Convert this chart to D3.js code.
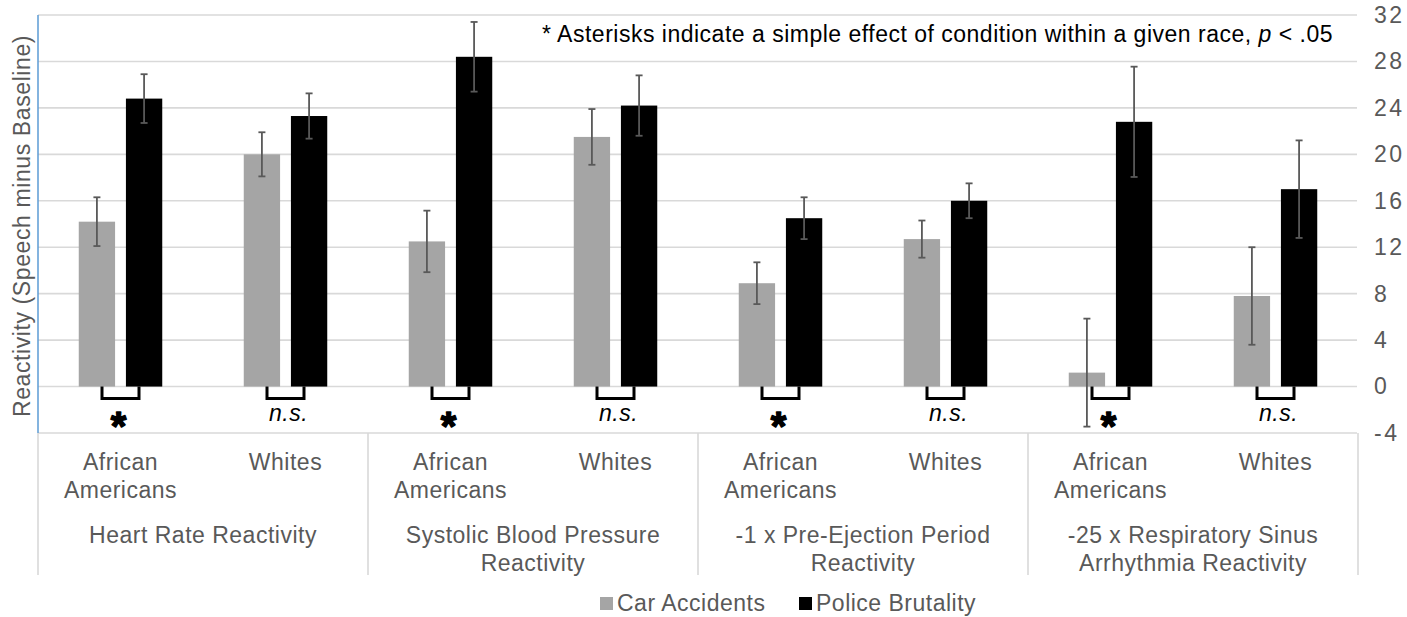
<!DOCTYPE html>
<html>
<head>
<meta charset="utf-8">
<script src="https://cdn.jsdelivr.net/npm/d3@7"></script>
<style>
  html, body { margin: 0; padding: 0; background: #fff; }
  svg { display: block; font-family: "Liberation Sans", Arial, sans-serif; }
  .lbl { font-size: 23px; letter-spacing: 0.5px; }
</style>
</head>
<body>
<svg id="chart" width="1407" height="617"></svg>
<script>
// Outcome groups (each split by race), shown as two-level category axis
const groupLabels = [
  ["Heart Rate Reactivity"],
  ["Systolic Blood Pressure", "Reactivity"],
  ["-1 x Pre-Ejection Period", "Reactivity"],
  ["-25 x Respiratory Sinus", "Arrhythmia Reactivity"]
];
const raceLabels = [["African", "Americans"], ["Whites"]];

// Categories: group index x race index
const categories = ["HR-AA", "HR-W", "SBP-AA", "SBP-W", "PEP-AA", "PEP-W", "RSA-AA", "RSA-W"];

// Series: means and standard errors
const seriesNames = ["Car Accidents", "Police Brutality"];
const carAccidents    = [14.2, 20.0, 12.5, 21.5, 8.9, 12.7, 1.2, 7.8];
const carErr          = [2.1, 1.9, 2.65, 2.4, 1.8, 1.6, 4.65, 4.2];
const policeBrutality = [24.8, 23.3, 28.4, 24.2, 14.5, 16.0, 22.8, 17.0];
const policeErr       = [2.1, 1.95, 3.0, 2.6, 1.8, 1.5, 4.75, 4.2];

// Simple-effect significance per category
const significance = ["*", "n.s.", "*", "n.s.", "*", "n.s.", "*", "n.s."];

// Right axis ticks
const yTicks = [-4, 0, 4, 8, 12, 16, 20, 24, 28, 32];

(function draw() {
  const colors = ["#a5a5a5", "#000000"];
  const textGray = "#595959";
  const gridGray = "#d9d9d9";

  const svg = d3.select("#chart");
  const plotLeft = 38, plotRight = 1358, plotTop = 15, axisBottom = 433, boxBottom = 575;

  const x = d3.scaleBand().domain(categories).range([plotLeft, plotRight]).padding(0);
  const bw = x.bandwidth();
  const xs = d3.scaleBand().domain(seriesNames)
    .range([bw * 0.247, bw * 0.753]).paddingInner(0.23).paddingOuter(0);
  const y = d3.scaleLinear().domain([-4, 32]).range([axisBottom, plotTop]);

  // Gridlines
  svg.append("g").selectAll("line").data(yTicks).join("line")
    .attr("x1", plotLeft).attr("x2", plotRight - 1)
    .attr("y1", d => y(d)).attr("y2", d => y(d))
    .attr("stroke", gridGray).attr("stroke-width", 1.6);

  // Right value axis
  const yAxis = svg.append("g")
    .attr("transform", `translate(${plotRight},0)`)
    .call(d3.axisRight(y).tickValues(yTicks).tickSize(0).tickPadding(16).tickFormat(d => String(d)));
  yAxis.select(".domain").remove();
  yAxis.attr("font-size", null).attr("font-family", null);
  yAxis.selectAll("text").attr("fill", textGray).attr("class", "lbl")
    .style("letter-spacing", "2.5px");

  // Category box: dividers between outcome groups
  const groupEdges = d3.range(groupLabels.length + 1).map(i => plotLeft + i * 2 * bw);
  svg.append("g").selectAll("line").data(groupEdges).join("line")
    .attr("x1", d => d).attr("x2", d => d)
    .attr("y1", axisBottom).attr("y2", boxBottom)
    .attr("stroke", gridGray).attr("stroke-width", 1.6);

  // Left value axis line
  svg.append("line")
    .attr("x1", plotLeft).attr("x2", plotLeft).attr("y1", plotTop).attr("y2", axisBottom)
    .attr("stroke", "#5b9bd5").attr("stroke-width", 1.5);

  // Bars
  const seriesData = [
    { name: seriesNames[0], values: carAccidents, errs: carErr, color: colors[0] },
    { name: seriesNames[1], values: policeBrutality, errs: policeErr, color: colors[1] }
  ];

  const rows = [];
  seriesData.forEach(s => {
    categories.forEach((c, i) => {
      rows.push({ cat: c, series: s.name, v: s.values[i], e: s.errs[i], color: s.color });
    });
  });

  svg.append("g").selectAll("rect").data(rows).join("rect")
    .attr("x", d => x(d.cat) + xs(d.series))
    .attr("width", xs.bandwidth())
    .attr("y", d => y(Math.max(0, d.v)))
    .attr("height", d => Math.abs(y(d.v) - y(0)))
    .attr("fill", d => d.color);

  // Error bars
  const eb = svg.append("g").attr("stroke", textGray).attr("stroke-width", 1.8);
  rows.forEach(d => {
    const cx = x(d.cat) + xs(d.series) + xs.bandwidth() / 2;
    eb.append("line").attr("x1", cx).attr("x2", cx).attr("y1", y(d.v + d.e)).attr("y2", y(d.v - d.e));
    eb.append("line").attr("x1", cx - 3.5).attr("x2", cx + 3.5).attr("y1", y(d.v + d.e)).attr("y2", y(d.v + d.e));
    eb.append("line").attr("x1", cx - 3.5).attr("x2", cx + 3.5).attr("y1", y(d.v - d.e)).attr("y2", y(d.v - d.e));
  });

  // Comparison brackets and significance markers
  const brackets = svg.append("g");
  categories.forEach((c, i) => {
    const cx = x(c) + bw / 2;
    const y0 = y(0);
    brackets.append("path")
      .attr("d", `M${cx - 18.5},${y0} V${y0 + 12} H${cx + 18.5} V${y0}`)
      .attr("fill", "none").attr("stroke", "#000").attr("stroke-width", 3);
    if (significance[i] === "*") {
      // Heavy asterisk: bold glyph thickened with a thin matching stroke
      brackets.append("text")
        .attr("x", cx - 2).attr("y", y0 + 53)
        .attr("text-anchor", "middle")
        .style("font-size", "40px").style("font-weight", "bold")
        .attr("fill", "#000").attr("stroke", "#000")
        .attr("stroke-width", 1.4).attr("stroke-linejoin", "round")
        .text("*");
    } else {
      brackets.append("text")
        .attr("x", cx + 3).attr("y", y0 + 34)
        .attr("text-anchor", "middle").attr("class", "lbl")
        .style("font-style", "italic")
        .attr("fill", "#000").text(significance[i]);
    }
  });

  // Race labels
  const catLabels = svg.append("g").attr("fill", textGray).attr("class", "lbl");
  categories.forEach((c, i) => {
    const lines = raceLabels[i % 2];
    const t = catLabels.append("text").attr("text-anchor", "middle");
    lines.forEach((ln, j) => {
      t.append("tspan").attr("x", x(c) + bw / 2).attr("y", 470 + j * 28).text(ln);
    });
  });

  // Outcome group labels
  groupLabels.forEach((lines, g) => {
    const cx = plotLeft + (g + 0.5) * 2 * bw;
    const t = catLabels.append("text").attr("text-anchor", "middle");
    lines.forEach((ln, j) => {
      t.append("tspan").attr("x", cx).attr("y", 543 + j * 27.5).text(ln);
    });
  });

  // Y axis title
  svg.append("text")
    .attr("transform", "translate(30,226) rotate(-90)")
    .attr("text-anchor", "middle").attr("fill", textGray)
    .attr("class", "lbl").style("letter-spacing", "0.6px")
    .text("Reactivity (Speech minus Baseline)");

  // Note about asterisks
  const note = svg.append("text")
    .attr("x", 1333).attr("y", 42).attr("text-anchor", "end")
    .attr("fill", "#000").attr("class", "lbl");
  note.append("tspan").text("* Asterisks indicate a simple effect of condition within a given race, ");
  note.append("tspan").style("font-style", "italic").text("p");
  note.append("tspan").text(" < .05");

  // Legend
  const legend = svg.append("g");
  const legendX = [600, 799];
  seriesData.forEach((s, i) => {
    legend.append("rect").attr("x", legendX[i]).attr("y", 597).attr("width", 13).attr("height", 13).attr("fill", s.color);
    legend.append("text").attr("x", legendX[i] + 17).attr("y", 611)
      .attr("fill", textGray).attr("class", "lbl").text(s.name);
  });
})();
</script>
</body>
</html>
